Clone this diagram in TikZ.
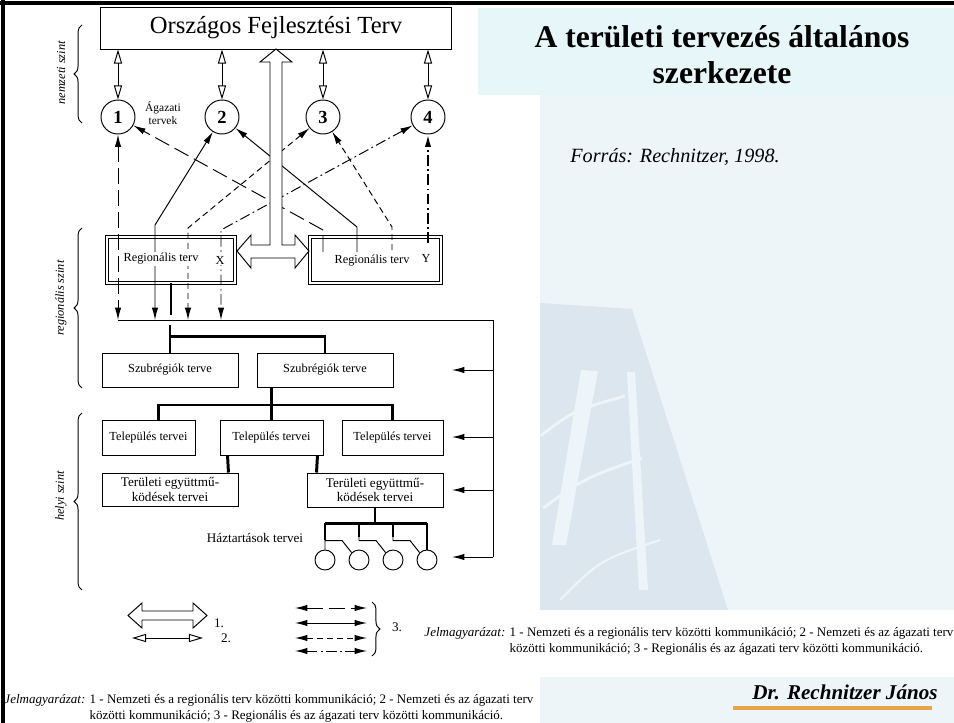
\documentclass[tikz,border=0pt]{standalone}
\usepackage{fontspec}
\setmainfont{Liberation Serif}
\usetikzlibrary{arrows.meta,decorations.pathreplacing,positioning}
\definecolor{bandcol}{HTML}{E7F6F8}
\definecolor{panelcol}{HTML}{EDF5F8}
\definecolor{wmcol}{HTML}{DBE6EF}
\definecolor{rulecol}{HTML}{E8A445}
\tikzset{
  fh/.tip={Latex[length=7pt,width=3.6pt]},
  oh/.tip={Triangle[open,length=8pt,width=4.6pt]},
  box/.style={draw,inner sep=1pt,font=\fontsize{7}{8}\selectfont},
  regbox/.style={draw,double,double distance=1.4pt},
  lbl/.style={fill=white,inner sep=.6pt,font=\fontsize{7}{8}\selectfont},
  tree/.style={line width=1.7pt},
  ld/.style={dash pattern=on 9pt off 3.5pt},
  sd/.style={dash pattern=on 3.5pt off 2.2pt},
  dd/.style={dash pattern=on 6pt off 2pt on 1pt off 2pt},
  brc/.style={decorate,decoration={brace,amplitude=4.5pt}},
  lvl/.style={rotate=90,font=\itshape\fontsize{7}{8}\selectfont},
  jel/.style={anchor=base west,inner sep=0pt,font=\fontsize{7.4}{9.5}\selectfont}
}
\begin{document}
\begin{tikzpicture}[x=0.02cm,y=-0.02cm,line width=.55pt]
\useasboundingbox (0,0) rectangle (954,723);
% slide background
\fill[bandcol] (478,8) rectangle (954,95);
\fill[panelcol] (540,95) rectangle (954,610);
\fill[panelcol] (540,677) rectangle (954,723);
\fill[wmcol] (540,303) -- (632,309) -- (728,610) -- (540,610) -- cycle;
\fill[panelcol] (581,370) -- (598,371) -- (566,545) -- (552,545) -- cycle;
\fill[panelcol] (627,372) -- (635,372) -- (648,590) -- (639,590) -- cycle;
\draw[panelcol,line width=1.6pt] (540,436) .. controls (575,410) .. (625,396);
\draw[panelcol,line width=1.6pt] (543,508) .. controls (585,478) .. (642,458);
\draw[panelcol,line width=1.2pt] (560,600) .. controls (600,560) .. (660,540);
\draw[line width=2pt] (0,3) -- (954,3);
\draw[line width=2.2pt] (3,0) -- (3,723);

% title, source, author
\node[font=\bfseries\fontsize{18}{20.5}\selectfont,align=center] (ttl) at (722,55) {A területi tervezés általános\\szerkezete};
\node[font=\itshape\fontsize{11.5}{14}\selectfont,anchor=west] (src) at (564,157) {Forrás: Rechnitzer, 1998.};
\node[font=\bfseries\itshape\fontsize{12}{14}\selectfont] (aut) at (845,692) {Dr. Rechnitzer János};
\draw[rulecol,line width=2pt] (733,708) -- (932,708);

% national level
\node[draw,minimum width=7.04cm,minimum height=.84cm,font=\fontsize{14}{16}\selectfont] (oft) at (276,28) {Országos Fejlesztési Terv};
\foreach \i/\x in {1/118,2/222,3/323,4/428}{
  \node[circle,draw,minimum size=.68cm,inner sep=0pt,font=\bfseries\fontsize{10.5}{12}\selectfont] (S\i) at (\x,117) {\i};
  \draw[oh-oh] (oft.south -| S\i) -- (S\i);
}
\node[font=\fontsize{6.5}{7.5}\selectfont,align=center] (agt) at (163,113) {Ágazati\\tervek};

% regional level
\node[regbox,minimum width=2.56cm,minimum height=.92cm] (regL) at (171,260) {};
\node[regbox,minimum width=2.62cm,minimum height=.92cm] (regR) at (375.5,260) {};
\node[box] (sub1) [minimum width=2.72cm,minimum height=.68cm] at (170,370) {Szubrégiók terve};
\node[box] (sub2) [minimum width=2.72cm,minimum height=.68cm] at (325,370) {Szubrégiók terve};

% local level
\node[box,minimum width=1.86cm,minimum height=.7cm] (tel1) at (148.5,437.5) {Település tervei};
\node[box,minimum width=2.06cm,minimum height=.7cm] (tel2) at (271.5,437.5) {Település tervei};
\node[box,minimum width=2.02cm,minimum height=.7cm] (tel3) at (392.5,437.5) {Település tervei};
\node[box,minimum width=2.72cm,minimum height=.66cm,align=center,font=\fontsize{7.5}{8}\selectfont] (ter1) at (170,489.5) {Területi együttmű-\\ködések tervei};
\node[box,minimum width=2.72cm,minimum height=.68cm,align=center,font=\fontsize{7.5}{8}\selectfont] (ter2) at (375,490) {Területi együttmű-\\ködések tervei};
\foreach \i/\x in {1/325,2/359,3/393,4/427}
  \node[circle,draw,minimum size=.4cm,inner sep=0pt] (H\i) at (\x,560) {};
\node[font=\fontsize{7.5}{8}\selectfont] (hzt) at (255,538) {Háztartások tervei};

% level braces
\draw[brc] (82,123) -- (82,25);
\draw[brc] (82,388) -- (82,228);
\draw[brc] (82,590) -- (82,413);
\node[lvl] (lv1) at (61,73) {nemzeti szint};
\node[lvl] (lv2) at (61,298) {regionális szint};
\node[lvl] (lv3) at (61,496) {helyi szint};

% regional <-> sectoral
\coordinate (b1) at (118,320);
\coordinate (b2) at (155,320);
\coordinate (b3) at (188,320);
\coordinate (b4) at (221,320);
\coordinate (k2) at (155,225);
\coordinate (k3) at (188,228);
\coordinate (k4) at (221,230);
\coordinate (r1) at (323,252);
\coordinate (k5) at (323,230);
\coordinate (r2) at (357,252);
\coordinate (k6) at (357,227);
\coordinate (r3) at (392,250);
\coordinate (k7) at (392,227);
\coordinate (r4) at (428,243);
\draw[ld,fh-fh] (S1) -- (b1);
\draw[fh-fh] (S2) -- (k2) -- (b2);
\draw[sd,fh-fh] (S3) -- (k3) -- (b3);
\draw[dd,fh-fh] (S4) -- (k4) -- (b4);
\draw[ld,-fh] (r1) -- (k5) -- (S1);
\draw[-fh] (r2) -- (k6) -- (S2);
\draw[sd,-fh] (r3) -- (k7) -- (S3);
\draw[dd,line width=1pt,-fh] (r4) -- (S4);

% national <-> regional
\filldraw[fill=white] (237,251) -- (251,235) -- (251,245) -- (270,245) -- (270,62) -- (260,62) -- (276,49) -- (292,62) -- (282,62) -- (282,245) -- (295,245) -- (295,235) -- (309,251) -- (295,268) -- (295,258) -- (251,258) -- (251,268) -- cycle;

% labels in the regional boxes
\node[lbl] (rlt) at (161,259) {Regionális terv};
\node[lbl] (rrt) at (372,261) {Regionális terv};
\node[lbl] (xx) at (220,260) {X};
\node[lbl] (yy) at (426,258) {Y};

% feedback bus
\coordinate (cr) at (493,320);
\coordinate (cb) at (493,557);
\draw (b1) -- (cr) -- (cb);
\foreach \i/\y in {1/370,2/437,3/490,4/557}{
  \coordinate (f\i) at (493,\y);
  \coordinate (e\i) at (452,\y);
  \draw[-fh] (f\i) -- (e\i);
}

% hierarchy
\draw[tree] (regL.south) -- ++(0,32);
\draw[tree] (sub1.north) -- ++(0,-28);
\draw[tree] (sub1.north) ++(0,-16) -| (sub2.north);
\draw[tree] (sub2.south -| tel2.north) -- (tel2.north);
\draw[tree] (tel1.60) |- (tel2.north |- 0,405) -| (tel3.north);
\draw[tree] ([xshift=.16cm]tel2.south west) -- ([xshift=-.2cm]ter1.north east);
\draw[tree] ([xshift=-.12cm]tel2.south east) -- ([xshift=.2cm]ter2.north west);
\draw[tree] (ter2.south) -- ++(0,16) coordinate (t3);
\draw[tree] (H1 |- t3) -- (H4 |- t3);
\draw[tree] (H1 |- t3) -- ++(0,17);
\draw[tree] (H2 |- t3) -- ++(0,14);
\draw[tree] (H3 |- t3) -- ++(0,14);
\draw[tree] (H4 |- t3) -- (H4.north);
\draw (H1.north) -- ++(0,-9) -- ++(17,0) -- (H2.north west);
\draw (H2.north) ++(0,-19) -- ++(0,10) -- ++(17,0) -- (H3.north west);
\draw (H3.north) ++(0,-19) -- ++(0,10) -- ++(17,0) -- (H4.north west);

% legend
\filldraw[fill=white] (128,615.5) -- (142,603) -- (142,611) -- (193,611) -- (193,603) -- (207,615.5) -- (193,628) -- (193,620) -- (142,620) -- (142,628) -- cycle;
\node[font=\fontsize{7.5}{8}\selectfont] (lg1) at (219,623) {1.};
\coordinate (p1) at (132,638);
\coordinate (p2) at (203,638);
\draw[oh-oh] (p1) -- (p2);
\node[font=\fontsize{7.5}{8}\selectfont] (lg2) at (226,638) {2.};
\foreach \y/\s in {608/ld,623/solid,638/sd,651/dd}{
  \coordinate (q1) at (295,\y);
  \coordinate (q2) at (367,\y);
  \draw[\s,fh-fh] (q1) -- (q2);
}
\draw[brc] (372,602) -- (372,656);
\node[font=\fontsize{7.5}{8}\selectfont] (lg3) at (397,627) {3.};

% key text
\node[jel] (jel1) at (424,636) {\begin{tabular}[t]{@{}l@{ }l@{}}\textit{Jelmagyarázat:} & 1 - Nemzeti és a regionális terv közötti kommunikáció; 2 - Nemzeti és az ágazati terv\\ & közötti kommunikáció; 3 - Regionális és az ágazati terv közötti kommunikáció.\end{tabular}};
\node[jel] (jel2) at (4,703) {\begin{tabular}[t]{@{}l@{ }l@{}}\textit{Jelmagyarázat:} & 1 - Nemzeti és a regionális terv közötti kommunikáció; 2 - Nemzeti és az ágazati terv\\ & közötti kommunikáció; 3 - Regionális és az ágazati terv közötti kommunikáció.\end{tabular}};
\end{tikzpicture}
\end{document}
